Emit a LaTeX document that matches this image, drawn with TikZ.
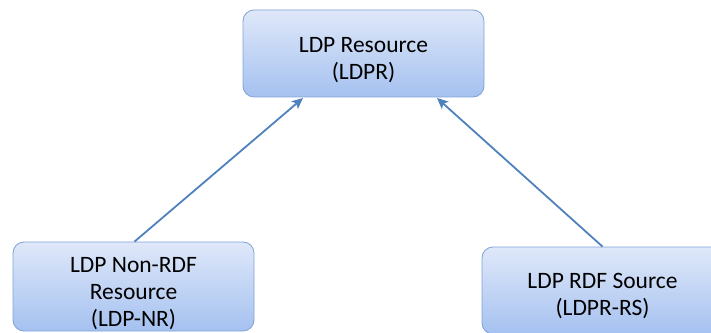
\documentclass[tikz,border=0pt]{standalone}
\usepackage{fontspec}
\setmainfont{Carlito}
\usetikzlibrary{arrows.meta}
\definecolor{boxtop}{HTML}{DFE8F9}
\definecolor{boxbot}{HTML}{A5C1F0}
\definecolor{boxline}{HTML}{7FA2D6}
\definecolor{linkblue}{HTML}{4F81BD}
\begin{document}
\begin{tikzpicture}[x=1pt,y=1pt,
  classbox/.style={draw=boxline, line width=0.8pt, rounded corners=11pt,
    top color=boxtop, bottom color=boxbot, inner sep=0pt, minimum width=241pt},
  caption/.style={align=center, font=\fontsize{23.5}{27}\selectfont,
    text=black, inner sep=0pt},
  link/.style={draw=linkblue, line width=1.8pt,
    -{Stealth[length=11pt,width=10pt,inset=2.5pt]}}]
\useasboundingbox (0,0) rectangle (711,332);
\begin{scope}
\clip (0,0) rectangle (711,332);
% the three class boxes
\node[classbox, minimum height=87pt] (ldpr) at (363.5,278.5) {};
\node[classbox, minimum height=89pt] (ldpnr) at (133.5,45.5) {};
\node[classbox, minimum height=87pt] (ldprs) at (602.5,41.5) {};
% their captions, set a little below the box centres
\node[caption] (ldprcap) at ([yshift=-7pt]ldpr.center) {LDP Resource\\(LDPR)};
\node[caption] (ldpnrcap) at ([yshift=-7pt]ldpnr.center) {LDP Non-RDF\\Resource\\(LDP-NR)};
\node[caption] (ldprscap) at ([yshift=-6pt]ldprs.center) {LDP RDF Source\\(LDPR-RS)};
% generalisation arrows
\draw[link] (ldpnr.north) ++(1,0) -- (303,234);
\draw[link] (ldprs.north) -- (437,234);
\end{scope}
\end{tikzpicture}
\end{document}
